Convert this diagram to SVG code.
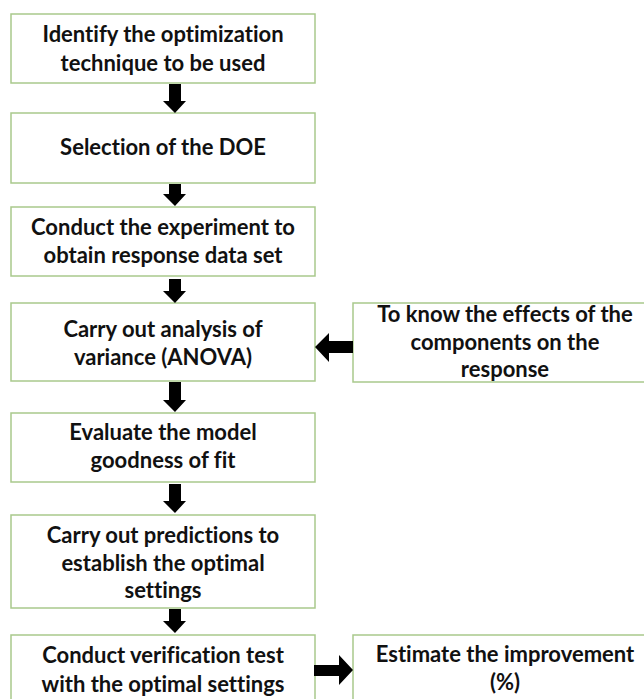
<svg xmlns="http://www.w3.org/2000/svg" width="644" height="699" viewBox="0 0 644 699">
<style>
.box{fill:#fff;stroke:#a9c98c;stroke-width:1.5}
.t{font-family:Lato,"Open Sans",sans-serif;font-weight:bold;font-size:22px;fill:#111;text-anchor:middle;font-variant-ligatures:none}
.arr{fill:#000}
</style>
<rect width="644" height="699" fill="#fff"/>
<g id="n1"><rect class="box" x="11" y="14" width="304" height="69"/>
<text class="t" x="163" y="42">Identify the optimization</text>
<text class="t" x="163" y="71">technique to be used</text></g>
<g id="n2"><rect class="box" x="11" y="113" width="304" height="70"/>
<text class="t" x="163" y="155">Selection of the DOE</text></g>
<g id="n3"><rect class="box" x="11" y="207" width="304" height="69"/>
<text class="t" x="163" y="235">Conduct the experiment to</text>
<text class="t" x="163" y="263">obtain response data set</text></g>
<g id="n4"><rect class="box" x="11" y="303" width="304" height="78"/>
<text class="t" x="163" y="337">Carry out analysis of</text>
<text class="t" x="163" y="365">variance (ANOVA)</text></g>
<g id="n5"><rect class="box" x="11" y="413" width="304" height="69"/>
<text class="t" x="163" y="440">Evaluate the model</text>
<text class="t" x="163" y="468">goodness of fit</text></g>
<g id="n6"><rect class="box" x="11" y="515" width="304" height="93"/>
<text class="t" x="163" y="543">Carry out predictions to</text>
<text class="t" x="163" y="571">establish the optimal</text>
<text class="t" x="163" y="598">settings</text></g>
<g id="n7"><rect class="box" x="11" y="635" width="304" height="80"/>
<text class="t" x="163" y="663">Conduct verification test</text>
<text class="t" x="163" y="692">with the optimal settings</text></g>
<g id="n8"><rect class="box" x="353" y="303" width="310" height="79"/>
<text class="t" x="505" y="322">To know the effects of the</text>
<text class="t" x="505" y="350">components on the</text>
<text class="t" x="505" y="377">response</text></g>
<g id="n9"><rect class="box" x="353" y="635" width="310" height="80"/>
<text class="t" x="505" y="662">Estimate the improvement</text>
<text class="t" x="505" y="690">(%)</text></g>
<g id="connectors">
<polygon class="arr" points="169,84 181,84 181,101 186,101 175,113 163,101 169,101"/>
<polygon class="arr" points="169,184 181,184 181,194 186,194 175,206 163,194 169,194"/>
<polygon class="arr" points="169,279 181,279 181,291 186,291 175,303 163,291 169,291"/>
<polygon class="arr" points="169,382 181,382 181,400 186,400 175,412 163,400 169,400"/>
<polygon class="arr" points="169,484 181,484 181,501 186,501 175,513 163,501 169,501"/>
<polygon class="arr" points="169,609 181,609 181,621 186,621 175,633 163,621 169,621"/>
<polygon class="arr" points="353,341 353,353 329,353 329,362 315,347 329,333 329,341"/>
<polygon class="arr" points="314,665 339,665 339,655 353,670 339,685 339,676 314,676"/>
</g>
</svg>
